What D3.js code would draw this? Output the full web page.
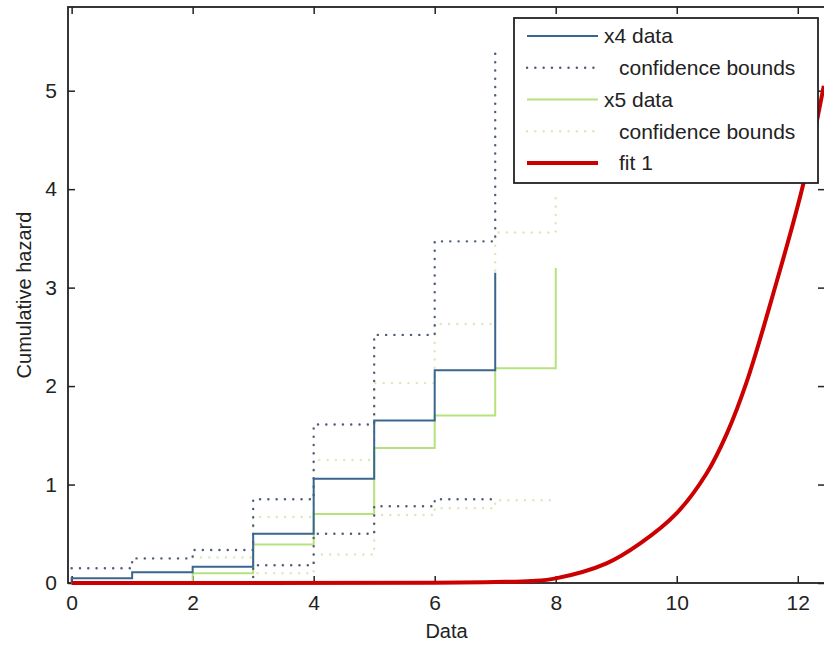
<!DOCTYPE html>
<html>
<head>
<meta charset="utf-8">
<script src="https://cdn.jsdelivr.net/npm/d3@7"></script>
<style>
  body { margin: 0; background: #fff; }
  svg { display: block; font-family: "Liberation Sans", Arial, sans-serif; }
</style>
</head>
<body>
<div id="chart"></div>
<script>
// step positions and cumulative hazard values
const x4X = [0, 0, 1, 2, 3, 4, 5, 6, 7];
const x4Y = [0, 0.048, 0.11, 0.166, 0.50, 1.06, 1.65, 2.16, 3.15];
const x4UpX = [0, 1, 2, 3, 4, 5, 6, 7];
const x4UpY = [0.15, 0.25, 0.335, 0.85, 1.61, 2.52, 3.47, 5.45];
const x4LoX = [2, 3, 4, 5, 6, 7];
const x4LoY = [0, 0.18, 0.50, 0.78, 0.85, 0.85];

const x5X = [0, 2, 3, 4, 5, 6, 7, 8];
const x5Y = [0, 0.10, 0.39, 0.70, 1.37, 1.70, 2.18, 3.20];
const x5UpX = [2, 3, 4, 5, 6, 7, 8];
const x5UpY = [0.26, 0.67, 1.25, 2.03, 2.63, 3.56, 3.95];
const x5LoX = [2, 3, 4, 5, 6, 7, 8];
const x5LoY = [0, 0.10, 0.29, 0.69, 0.76, 0.84, 0.84];

const fitX = [0, 6, 7, 7.6, 8, 8.84, 9.39, 10, 10.49, 10.83, 11.16, 11.6, 12.09, 12.43];
const fitY = [0, 0.003, 0.01, 0.02, 0.047, 0.20, 0.40, 0.71, 1.11, 1.52, 2.05, 2.95, 4.05, 5.05];

const xTicks = [0, 2, 4, 6, 8, 10, 12];
const yTicks = [0, 1, 2, 3, 4, 5];

const legendItems = [
  {label: "x4 data", kind: "x4"},
  {label: " confidence bounds", kind: "x4b"},
  {label: "x5 data", kind: "x5"},
  {label: " confidence bounds", kind: "x5b"},
  {label: " fit 1", kind: "fit"}
];

const width = 824, height = 645;
const plotL = 68, plotT = 7, plotR = 825, plotB = 583;

const styles = {
  x4:  {stroke: "#3a6690", width: 2, dash: null},
  x4b: {stroke: "#4d5e76", width: 2.4, dash: "0.1,8.2"},
  x5:  {stroke: "#b6e27e", width: 2, dash: null},
  x5b: {stroke: "#dfe6bc", width: 2.4, dash: "0.1,8.2"},
  fit: {stroke: "#cc0000", width: 4, dash: null}
};

const x = d3.scaleLinear().domain([-0.06, 12.45]).range([plotL, plotR]);
const y = d3.scaleLinear().domain([0, 5.85]).range([plotB, plotT]);

const svg = d3.select("#chart").append("svg")
  .attr("width", width)
  .attr("height", height);

svg.append("defs").append("clipPath").attr("id", "plot")
  .append("rect")
  .attr("x", plotL).attr("y", plotT)
  .attr("width", plotR - plotL).attr("height", plotB - plotT + 3);

const zip = (xs, ys) => xs.map((v, i) => [v, ys[i]]);

const stairs = d3.line().x(d => x(d[0])).y(d => y(d[1])).curve(d3.curveStepAfter);
const smooth = d3.line().x(d => x(d[0])).y(d => y(d[1])).curve(d3.curveCatmullRom.alpha(0.5));

// axes, MATLAB style: ticks inside on all four sides
const axisColor = "#222";
const fontSize = 21;

svg.append("rect")
  .attr("x", plotL).attr("y", plotT)
  .attr("width", plotR - plotL).attr("height", plotB - plotT)
  .attr("fill", "none")
  .attr("stroke", axisColor)
  .attr("stroke-width", 1.8);

const gx = svg.append("g")
  .attr("transform", `translate(0,${plotB})`)
  .call(d3.axisBottom(x).tickValues(xTicks).tickSizeInner(-7).tickSizeOuter(0).tickPadding(12));
const gxTop = svg.append("g")
  .attr("transform", `translate(0,${plotT})`)
  .call(d3.axisTop(x).tickValues(xTicks).tickSizeInner(-7).tickSizeOuter(0).tickFormat(""));
const gy = svg.append("g")
  .attr("transform", `translate(${plotL},0)`)
  .call(d3.axisLeft(y).tickValues(yTicks).tickFormat(d3.format("d"))
    .tickSizeInner(-7).tickSizeOuter(0).tickPadding(11));
const gyRight = svg.append("g")
  .attr("transform", `translate(${plotR},0)`)
  .call(d3.axisRight(y).tickValues(yTicks).tickSizeInner(-7).tickSizeOuter(0).tickFormat(""));

[gx, gxTop, gy, gyRight].forEach(g => {
  g.select(".domain").remove();
  g.selectAll("line").attr("stroke", axisColor).attr("stroke-width", 1.5);
  g.selectAll("text")
    .attr("fill", axisColor)
    .attr("font-size", fontSize)
    .attr("font-family", "Liberation Sans, Arial, sans-serif");
});

const plot = svg.append("g").attr("clip-path", "url(#plot)");

const series = [
  {pts: zip(x5LoX, x5LoY), s: styles.x5b, line: stairs},
  {pts: zip(x5UpX, x5UpY), s: styles.x5b, line: stairs},
  {pts: zip(x5X, x5Y), s: styles.x5, line: stairs},
  {pts: zip(x4LoX, x4LoY), s: styles.x4b, line: stairs},
  {pts: zip(x4UpX, x4UpY), s: styles.x4b, line: stairs},
  {pts: zip(x4X, x4Y), s: styles.x4, line: stairs},
  {pts: zip(fitX, fitY), s: styles.fit, line: smooth}
];

plot.selectAll("path.series")
  .data(series)
  .enter().append("path")
  .attr("class", "series")
  .attr("fill", "none")
  .attr("stroke", d => d.s.stroke)
  .attr("stroke-width", d => d.s.width)
  .attr("stroke-dasharray", d => d.s.dash)
  .attr("stroke-linecap", d => d.s.dash ? "round" : "butt")
  .attr("d", d => d.line(d.pts));

svg.append("text")
  .attr("x", (plotL + plotR) / 2)
  .attr("y", 638)
  .attr("text-anchor", "middle")
  .attr("font-size", fontSize - 1)
  .attr("fill", axisColor)
  .text("Data");

svg.append("text")
  .attr("transform", `translate(24,${(plotT + plotB) / 2}) rotate(-90)`)
  .attr("text-anchor", "middle")
  .attr("dy", "0.35em")
  .attr("font-size", fontSize - 1)
  .attr("fill", axisColor)
  .text("Cumulative hazard");

// legend
const legend = svg.append("g");
legend.append("rect")
  .attr("x", 514).attr("y", 18)
  .attr("width", 304).attr("height", 165)
  .attr("fill", "#fff")
  .attr("stroke", axisColor)
  .attr("stroke-width", 1.8);

const rowY = d3.scalePoint().domain(d3.range(legendItems.length)).range([36, 163]);

const rows = legend.selectAll("g.row")
  .data(legendItems)
  .enter().append("g")
  .attr("class", "row")
  .attr("transform", (d, i) => `translate(0,${rowY(i)})`);

rows.append("line")
  .attr("x1", 527).attr("x2", 598)
  .attr("stroke", d => styles[d.kind].stroke)
  .attr("stroke-width", d => styles[d.kind].width)
  .attr("stroke-dasharray", d => styles[d.kind].dash)
  .attr("stroke-linecap", d => styles[d.kind].dash ? "round" : "butt");

rows.append("text")
  .attr("x", d => d.label.startsWith(" ") ? 619 : 604)
  .attr("dy", "0.35em")
  .attr("font-size", fontSize)
  .attr("fill", axisColor)
  .text(d => d.label.trim());
</script>
</body>
</html>
